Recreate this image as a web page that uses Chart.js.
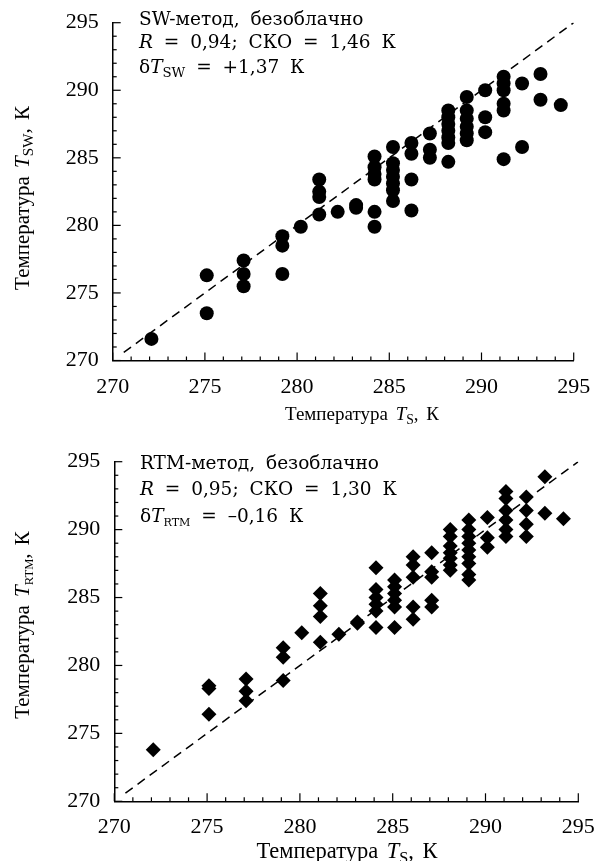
<!DOCTYPE html>
<html>
<head>
<meta charset="utf-8">
<script src="https://cdn.jsdelivr.net/npm/chart.js@4.4.0/dist/chart.umd.min.js"></script>
<style>
  html, body { margin: 0; padding: 0; background: #fff; }
  #top { position: absolute; left: 0; top: 0; width: 594px; height: 430px; }
  #bottom { position: absolute; left: 0; top: 430px; width: 594px; height: 431px; }
</style>
</head>
<body>
<div id="top"><canvas id="grafico-sw"></canvas></div>
<div id="bottom"><canvas id="grafico-rtm"></canvas></div>
<script>
const swX = [272.1, 275.1, 275.1, 277.1, 277.1, 277.1, 279.2, 279.2, 279.2, 280.2,
  281.2, 281.2, 281.2, 281.2, 282.2, 283.2, 283.2,
  284.2, 284.2, 284.2, 284.2, 284.2, 284.2,
  285.2, 285.2, 285.2, 285.2, 285.2, 285.2, 285.2,
  286.2, 286.2, 286.2, 286.2, 287.2, 287.2, 287.2,
  288.2, 288.2, 288.2, 288.2, 288.2, 288.2, 288.2,
  289.2, 289.2, 289.2, 289.2, 289.2, 289.2,
  290.2, 290.2, 290.2,
  291.2, 291.2, 291.2, 291.2, 291.2, 291.2,
  292.2, 292.2, 293.2, 293.2, 294.3];
const swY = [271.6, 276.3, 273.5, 277.4, 276.4, 275.5, 279.2, 278.5, 276.4, 279.9,
  283.4, 282.5, 282.1, 280.8, 281.0, 281.5, 281.3,
  285.1, 284.3, 283.8, 283.4, 281.0, 279.9,
  285.8, 284.6, 284.1, 283.6, 283.1, 282.6, 281.8,
  286.1, 285.3, 283.4, 281.1, 286.8, 285.6, 285.0,
  288.5, 288.0, 287.5, 287.0, 286.5, 286.1, 284.7,
  289.5, 288.5, 287.9, 287.3, 286.8, 286.3,
  290.0, 288.0, 286.9,
  291.0, 290.5, 290.0, 289.0, 288.5, 284.9,
  290.5, 285.8, 291.2, 289.3, 288.9];

const rtmX = [272.1, 275.1, 275.1, 275.1, 277.1, 277.1, 277.1, 279.1, 279.1, 279.1, 280.1,
  281.1, 281.1, 281.1, 281.1, 282.1, 283.1, 283.1,
  284.1, 284.1, 284.1, 284.1, 284.1, 284.1,
  285.1, 285.1, 285.1, 285.1, 285.1, 285.1,
  286.1, 286.1, 286.1, 286.1, 286.1,
  287.1, 287.1, 287.1, 287.1, 287.1,
  288.1, 288.1, 288.1, 288.1, 288.1, 288.1, 288.1,
  289.1, 289.1, 289.1, 289.1, 289.1, 289.1, 289.1, 289.1, 289.1,
  290.1, 290.1, 290.1,
  291.1, 291.1, 291.1, 291.1, 291.1, 291.1,
  292.2, 292.2, 292.2, 292.2, 293.2, 293.2, 294.2];
const rtmY = [273.8, 278.5, 278.3, 276.4, 279.0, 278.1, 277.4, 281.3, 280.6, 278.9, 282.4,
  285.3, 284.4, 283.6, 281.7, 282.3, 283.2, 283.1,
  287.2, 285.6, 285.0, 284.5, 284.0, 282.8,
  286.3, 285.8, 285.3, 284.8, 284.3, 282.8,
  288.0, 287.4, 286.5, 284.3, 283.4,
  288.3, 286.9, 286.5, 284.8, 284.3,
  290.0, 289.5, 288.8, 288.3, 287.9, 287.4, 287.0,
  290.7, 290.0, 289.5, 289.0, 288.5, 288.0, 287.5, 286.7, 286.3,
  290.9, 289.4, 288.7,
  292.8, 292.3, 291.4, 290.7, 290.0, 289.5,
  292.4, 291.4, 290.4, 289.5, 293.9, 291.2, 290.8];

// Linha 1:1
const linhaX = [270.6, 295];
const linhaY = [270.6, 295];

const eixoMin = 270;
const eixoMax = 295;
const rotulosTicks = [270, 275, 280, 285, 290, 295];

const FONTE_TICK = '"Liberation Serif", "Times New Roman", serif';
const FONTE_TEXTO = '"DejaVu Serif", serif';

// desenha texto com trechos em itálico / subscrito
function textoRico(ctx, partes, x, y, tam, align, espaco, fonte) {
    if ('wordSpacing' in ctx) ctx.wordSpacing = espaco + 'px';
    const medir = p => {
        ctx.font = (p.it ? 'italic ' : '') + (p.sub ? tam * (p.sub === 2 ? 0.6 : 0.72) : tam) + 'px ' + fonte;
        return ctx.measureText(p.t).width;
    };
    let total = 0;
    partes.forEach(p => total += medir(p));
    let cx = align === 'center' ? x - total / 2 : x;
    ctx.textAlign = 'left';
    ctx.textBaseline = 'alphabetic';
    ctx.fillStyle = '#000';
    partes.forEach(p => {
        const w = medir(p);
        ctx.fillText(p.t, cx, p.sub ? y + tam * 0.2 : y);
        cx += w;
    });
    if ('wordSpacing' in ctx) ctx.wordSpacing = '0px';
}

const pluginTextos = {
    id: 'textos',
    afterDraw(chart, args, opts) {
        const ctx = chart.ctx;
        const area = chart.chartArea;
        ctx.save();
        // ticks internos (maiores a cada 5, menores a cada 1)
        ctx.strokeStyle = '#000';
        ctx.lineWidth = 1.2;
        const sx = chart.scales.x, sy = chart.scales.y;
        for (let v = eixoMin; v <= eixoMax; v++) {
            const len = v % 5 === 0 ? 8 : 4;
            const px = sx.getPixelForValue(v);
            ctx.beginPath();
            ctx.moveTo(px, area.bottom);
            ctx.lineTo(px, area.bottom - len);
            ctx.stroke();
            const py = sy.getPixelForValue(v);
            ctx.beginPath();
            ctx.moveTo(area.left, py);
            ctx.lineTo(area.left + len, py);
            ctx.stroke();
        }
        // legenda em texto
        opts.linhas.forEach((l, i) => {
            textoRico(ctx, l, opts.textoX, opts.textoY[i], opts.tamTexto, 'left', 5, FONTE_TEXTO);
        });
        // título eixo x
        textoRico(ctx, opts.tituloX, opts.tituloXpos[0], opts.tituloXpos[1], opts.tamTituloX, 'center', 3, FONTE_TICK);
        // título eixo y (rotacionado)
        ctx.translate(opts.tituloYpos[0], opts.tituloYpos[1]);
        ctx.rotate(-Math.PI / 2);
        textoRico(ctx, opts.tituloY, 0, 0, opts.tamTituloY, 'center', 3, FONTE_TICK);
        ctx.restore();
    }
};

function criarGrafico(id, xs, ys, ponto, raio, cfg) {
    const ctx = document.getElementById(id).getContext('2d');
    const escala = (eixo) => ({
        type: 'linear',
        min: eixoMin,
        max: eixoMax,
        afterBuildTicks: s => { s.ticks = rotulosTicks.map(v => ({ value: v })); },
        ticks: {
            autoSkip: false,
            maxRotation: 0,
            padding: eixo === 'x' ? cfg.padX : 14,
            color: '#000',
            font: { family: FONTE_TICK, size: 22 }
        },
        grid: { display: true, drawOnChartArea: false, drawTicks: false },
        border: { display: true, color: '#000', width: 1.5 },
        afterFit: s => {
            if (eixo === 'x') s.height = cfg.alturaX; else s.width = cfg.larguraY;
            s.paddingLeft = 0; s.paddingRight = 0; s.paddingTop = 0; s.paddingBottom = 0;
        }
    });
    new Chart(ctx, {
        type: 'scatter',
        data: {
            datasets: [
                {
                    data: xs.map((x, i) => ({ x: x, y: ys[i] })),
                    pointStyle: ponto,
                    pointRadius: raio,
                    pointBackgroundColor: '#000',
                    pointBorderColor: '#000',
                    pointBorderWidth: 0
                },
                {
                    type: 'line',
                    data: linhaX.map((x, i) => ({ x: x, y: linhaY[i] })),
                    borderColor: '#000',
                    borderWidth: 1.5,
                    borderDash: [9, 6],
                    pointRadius: 0,
                    fill: false
                }
            ]
        },
        options: {
            responsive: true,
            maintainAspectRatio: false,
            animation: false,
            layout: { padding: { top: cfg.padTop, right: cfg.padRight, left: 0, bottom: 0 } },
            plugins: {
                legend: { display: false },
                tooltip: { enabled: false },
                textos: cfg.textos
            },
            scales: { x: escala('x'), y: escala('y') }
        },
        plugins: [pluginTextos]
    });
}

criarGrafico('grafico-sw', swX, swY, 'circle', 7, {
    padTop: 22.7, padRight: 20.3, alturaX: 69.5, larguraY: 112.7, padX: 14,
    textos: {
        textoX: 139, textoY: [25, 48, 73], tamTexto: 18.5,
        linhas: [
            [{ t: 'SW-метод, безоблачно' }],
            [{ t: 'R', it: true }, { t: ' = 0,94; СКО = 1,46 К' }],
            [{ t: 'δ' }, { t: 'T', it: true }, { t: 'SW', sub: 1 }, { t: ' = +1,37 К' }]
        ],
        tituloX: [{ t: 'Температура ' }, { t: 'T', it: true }, { t: 'S', sub: 1 }, { t: ', К' }],
        tituloXpos: [362, 420], tamTituloX: 19,
        tituloY: [{ t: 'Температура ' }, { t: 'T', it: true }, { t: 'SW', sub: 1 }, { t: ', К' }],
        tituloYpos: [29, 198], tamTituloY: 21
    }
});

criarGrafico('grafico-rtm', rtmX, rtmY, 'rectRot', 7.5, {
    padTop: 31.7, padRight: 15.7, alturaX: 59.7, larguraY: 114.3, padX: 13,
    textos: {
        textoX: 140, textoY: [39, 65, 92], tamTexto: 18.5,
        linhas: [
            [{ t: 'RTM-метод, безоблачно' }],
            [{ t: 'R', it: true }, { t: ' = 0,95; СКО = 1,30 К' }],
            [{ t: 'δ' }, { t: 'T', it: true }, { t: 'RTM', sub: 2 }, { t: ' = –0,16 К' }]
        ],
        tituloX: [{ t: 'Температура ' }, { t: 'T', it: true }, { t: 'S', sub: 1 }, { t: ', К' }],
        tituloXpos: [347, 428], tamTituloX: 22.5,
        tituloY: [{ t: 'Температура ' }, { t: 'T', it: true }, { t: 'RTM', sub: 2 }, { t: ', К' }],
        tituloYpos: [29, 195], tamTituloY: 21
    }
});
</script>
</body>
</html>
